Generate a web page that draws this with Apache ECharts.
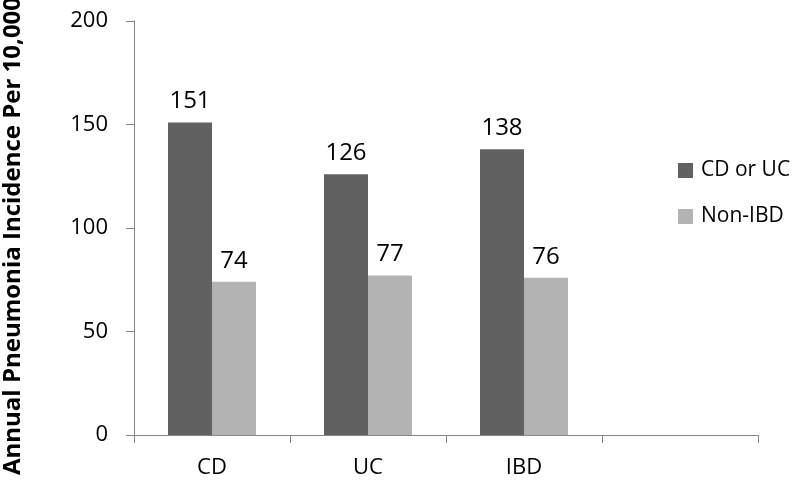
<!DOCTYPE html>
<html>
<head>
<meta charset="utf-8">
<script src="https://cdn.jsdelivr.net/npm/echarts@6/dist/echarts.min.js"></script>
<style>html,body{margin:0;padding:0;background:#fff}#c{width:800px;height:480px}</style>
</head>
<body>
<div id="c"></div>
<script>
var categories = ['CD', 'UC', 'IBD', ''];
var cdOrUc = [151, 126, 138, null];
var nonIbd = [74, 77, 76, null];
var yTicks = [0, 50, 100, 150, 200];
var seriesNames = ['CD or UC', 'Non-IBD'];
var yAxisTitle = 'Annual Pneumonia Incidence Per 10,000';

var FONT = '"Open Sans", "Noto Sans", sans-serif';
var chart = echarts.init(document.getElementById('c'), null, {renderer: 'canvas'});
var lbl = {show: true, position: 'top', distance: 9, fontSize: 24, color: '#000', fontFamily: FONT};
chart.setOption({
  animation: false,
  backgroundColor: '#fff',
  textStyle: {fontFamily: FONT},
  grid: {left: 134, right: 42, top: 21, bottom: 45, containLabel: false, outerBoundsMode: 'none'},
  legend: {
    orient: 'vertical', left: 678, top: 160, itemWidth: 15, itemHeight: 15, itemGap: 25,
    icon: 'rect', padding: 0,
    textStyle: {fontSize: 21, color: '#000', fontFamily: FONT, padding: [0, 0, 0, 3]},
    data: seriesNames
  },
  xAxis: {
    type: 'category', data: categories,
    axisLine: {lineStyle: {color: '#868686', width: 1}},
    axisTick: {show: true, length: 8, lineStyle: {color: '#868686'}},
    axisLabel: {fontSize: 22, color: '#000', margin: 22, fontFamily: FONT},
    splitLine: {show: false}
  },
  yAxis: {
    type: 'value', min: yTicks[0], max: yTicks[yTicks.length - 1], interval: 50,
    name: yAxisTitle, nameLocation: 'middle', nameGap: 109, nameRotate: 90,
    nameTextStyle: {fontSize: 24, fontWeight: 'bold', color: '#000', fontFamily: FONT, padding: [0, 16, 0, 0]},
    axisLine: {show: true, lineStyle: {color: '#868686', width: 1}},
    axisTick: {show: true, length: 8, lineStyle: {color: '#868686'}},
    axisLabel: {fontSize: 22, color: '#000', margin: 26, fontFamily: FONT},
    splitLine: {show: false}
  },
  series: [
    {name: seriesNames[0], type: 'bar', data: cdOrUc, barWidth: 44, barGap: '0%',
     itemStyle: {color: '#616161'}, label: lbl},
    {name: seriesNames[1], type: 'bar', data: nonIbd, barWidth: 44, barGap: '0%',
     itemStyle: {color: '#b3b3b3'}, label: lbl}
  ]
});
</script>
</body>
</html>
